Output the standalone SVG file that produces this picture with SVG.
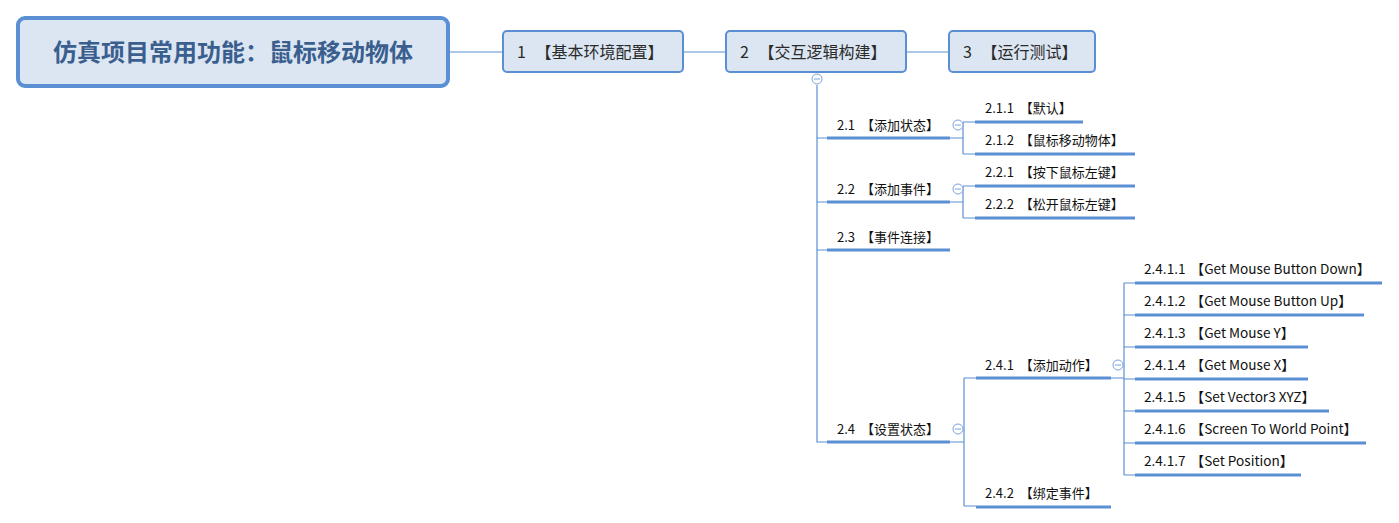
<svg xmlns="http://www.w3.org/2000/svg" width="1399" height="523" viewBox="0 0 1399 523">
<style>
.ln{stroke:#5b8fd4;stroke-width:1.2;fill:none}
.ul{stroke:#5b8fd4;stroke-width:3;fill:none}
.box{fill:#dce6f2;stroke:#5b8fd4;stroke-width:2}
.t{font-family:"Microsoft YaHei","Noto Sans CJK SC",sans-serif;font-size:13px;fill:#111}
.te{font-size:13.6px}
.tn{font-family:"Microsoft YaHei","Noto Sans CJK SC",sans-serif;font-size:16px;fill:#2a2a2a}
.tr{font-family:"Microsoft YaHei","Noto Sans CJK SC",sans-serif;font-size:24px;font-weight:bold;fill:#3a5f8f}
.cc{fill:#fff;stroke:#7aa3dc;stroke-width:1}
.cm{stroke:#7aa3dc;stroke-width:1}
</style>
<rect width="1399" height="523" fill="#fff"/>
<g id="connectors">
<line class="ln" x1="448" y1="52" x2="503" y2="52"/>
<line class="ln" x1="683" y1="52" x2="726" y2="52"/>
<line class="ln" x1="906" y1="52" x2="949" y2="52"/>
<path class="ln" d="M817 85V442H827M817 138H827M817 202H827M817 250H827"/>
<path class="ln" d="M950 138H963M963 122V154M963 122H975M963 154H975"/>
<path class="ln" d="M950 202H963M963 186V218M963 186H975M963 218H975"/>
<path class="ln" d="M950 442H964M964 378V506M964 378H976M964 506H976"/>
<path class="ln" d="M1111 378H1124M1124 283V475M1124 283H1135M1124 315H1135M1124 347H1135M1124 379H1135M1124 411H1135M1124 443H1135M1124 475H1135"/>
</g>
<g id="root">
<rect x="18" y="18" width="430" height="68" rx="7" fill="#dce6f2" stroke="#5b8fd4" stroke-width="4"/>
<text class="tr" x="233" y="61" text-anchor="middle">仿真项目常用功能：鼠标移动物体</text>
</g>
<g id="n1">
<rect class="box" x="503" y="31" width="180" height="41" rx="4"/>
<text class="tn" x="517" y="58">1 <tspan dx="6">【基本环境配置】</tspan></text>
</g>
<g id="n2">
<rect class="box" x="726" y="31" width="180" height="41" rx="4"/>
<text class="tn" x="740" y="58">2 <tspan dx="6">【交互逻辑构建】</tspan></text>
<circle class="cc" cx="817" cy="79" r="5"/>
<line class="cm" x1="814" y1="79" x2="820" y2="79"/>
</g>
<g id="n3">
<rect class="box" x="949" y="31" width="146" height="41" rx="4"/>
<text class="tn" x="963" y="58">3 <tspan dx="6">【运行测试】</tspan></text>
</g>
<g id="n2_1">
<line class="ul" x1="827" y1="138" x2="950" y2="138"/>
<text class="t" x="837" y="130">2.1 <tspan dx="3">【添加状态】</tspan></text>
<circle class="cc" cx="958" cy="125" r="5"/>
<line class="cm" x1="955" y1="125" x2="961" y2="125"/>
</g>
<g id="n2_1_1">
<line class="ul" x1="975" y1="122" x2="1083" y2="122"/>
<text class="t" x="985" y="113">2.1.1 <tspan dx="3">【默认】</tspan></text>
</g>
<g id="n2_1_2">
<line class="ul" x1="975" y1="154" x2="1135" y2="154"/>
<text class="t" x="985" y="145">2.1.2 <tspan dx="3">【鼠标移动物体】</tspan></text>
</g>
<g id="n2_2">
<line class="ul" x1="827" y1="202" x2="950" y2="202"/>
<text class="t" x="837" y="194">2.2 <tspan dx="3">【添加事件】</tspan></text>
<circle class="cc" cx="958" cy="189" r="5"/>
<line class="cm" x1="955" y1="189" x2="961" y2="189"/>
</g>
<g id="n2_2_1">
<line class="ul" x1="975" y1="186" x2="1135" y2="186"/>
<text class="t" x="985" y="177">2.2.1 <tspan dx="3">【按下鼠标左键】</tspan></text>
</g>
<g id="n2_2_2">
<line class="ul" x1="975" y1="218" x2="1135" y2="218"/>
<text class="t" x="985" y="209">2.2.2 <tspan dx="3">【松开鼠标左键】</tspan></text>
</g>
<g id="n2_3">
<line class="ul" x1="827" y1="250" x2="950" y2="250"/>
<text class="t" x="837" y="242">2.3 <tspan dx="3">【事件连接】</tspan></text>
</g>
<g id="n2_4">
<line class="ul" x1="827" y1="442" x2="950" y2="442"/>
<text class="t" x="837" y="434">2.4 <tspan dx="3">【设置状态】</tspan></text>
<circle class="cc" cx="958" cy="429" r="5"/>
<line class="cm" x1="955" y1="429" x2="961" y2="429"/>
</g>
<g id="n2_4_1">
<line class="ul" x1="976" y1="378" x2="1111" y2="378"/>
<text class="t" x="985" y="370">2.4.1 <tspan dx="3">【添加动作】</tspan></text>
<circle class="cc" cx="1118" cy="365" r="5"/>
<line class="cm" x1="1115" y1="365" x2="1121" y2="365"/>
</g>
<g id="n2_4_1_1">
<line class="ul" x1="1135" y1="283" x2="1382" y2="283"/>
<text class="t te" x="1144" y="274">2.4.1.1 <tspan dx="2">【Get Mouse Button Down】</tspan></text>
</g>
<g id="n2_4_1_2">
<line class="ul" x1="1135" y1="315" x2="1364" y2="315"/>
<text class="t te" x="1144" y="306">2.4.1.2 <tspan dx="2">【Get Mouse Button Up】</tspan></text>
</g>
<g id="n2_4_1_3">
<line class="ul" x1="1135" y1="347" x2="1308" y2="347"/>
<text class="t te" x="1144" y="338">2.4.1.3 <tspan dx="2">【Get Mouse Y】</tspan></text>
</g>
<g id="n2_4_1_4">
<line class="ul" x1="1135" y1="379" x2="1308" y2="379"/>
<text class="t te" x="1144" y="370">2.4.1.4 <tspan dx="2">【Get Mouse X】</tspan></text>
</g>
<g id="n2_4_1_5">
<line class="ul" x1="1135" y1="411" x2="1329" y2="411"/>
<text class="t te" x="1144" y="402">2.4.1.5 <tspan dx="2">【Set Vector3 XYZ】</tspan></text>
</g>
<g id="n2_4_1_6">
<line class="ul" x1="1135" y1="443" x2="1366" y2="443"/>
<text class="t te" x="1144" y="434">2.4.1.6 <tspan dx="2">【Screen To World Point】</tspan></text>
</g>
<g id="n2_4_1_7">
<line class="ul" x1="1135" y1="475" x2="1301" y2="475"/>
<text class="t te" x="1144" y="466">2.4.1.7 <tspan dx="2">【Set Position】</tspan></text>
</g>
<g id="n2_4_2">
<line class="ul" x1="976" y1="507" x2="1111" y2="507"/>
<text class="t" x="985" y="498">2.4.2 <tspan dx="3">【绑定事件】</tspan></text>
</g>
</svg>
